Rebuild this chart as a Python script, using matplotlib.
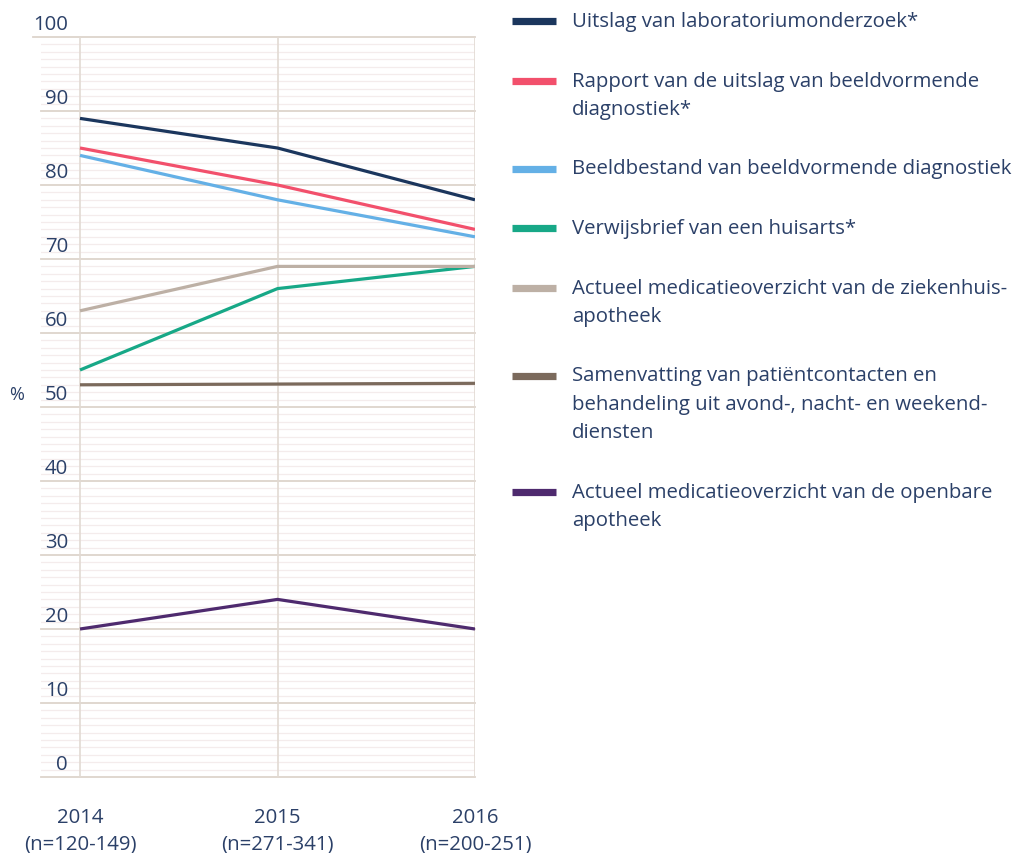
import matplotlib.pyplot as plt
from matplotlib.lines import Line2D

plt.rcParams['font.family'] = ['Open Sans', 'DejaVu Sans']

years = [2014, 2015, 2016]
year_labels = ['2014\n(n=120-149)', '2015\n(n=271-341)', '2016\n(n=200-251)']

labels = [
    'Uitslag van laboratoriumonderzoek*',
    'Rapport van de uitslag van beeldvormende\ndiagnostiek*',
    'Beeldbestand van beeldvormende diagnostiek',
    'Verwijsbrief van een huisarts*',
    'Actueel medicatieoverzicht van de ziekenhuis-\napotheek',
    'Samenvatting van patiëntcontacten en\nbehandeling uit avond-, nacht- en weekend-\ndiensten',
    'Actueel medicatieoverzicht van de openbare\napotheek',
]
values = [
    [89, 85, 78],
    [85, 80, 74],
    [84, 78, 73],
    [55, 66, 69],
    [63, 69, 69],
    [53.0, 53.1, 53.2],
    [20, 24, 20],
]
colors = ['#1b365d', '#f2506c', '#64b0e6', '#17a887', '#bdb0a5', '#7b6a5c', '#4e2a6e']

text_col = '#2b4068'
W, H = 1027, 854
fs = 14.7

fig = plt.figure(figsize=(W / 100, H / 100), dpi=100)
left, right, bottom, top = 41, 475, 778, 38
ax = fig.add_axes([left / W, 1 - bottom / H, (right - left) / W, (bottom - top) / H])

ax.set_ylim(0, 100)
ax.set_xlim(2014 - (80 - left) / ((right - 80) / 2), 2016)
ax.axis('off')

# background grid: fine lines every unit, stronger every ten
for v in range(0, 101):
    if v % 10:
        ax.axhline(v, color='#f4ecec', lw=0.9, zorder=0)
for v in range(0, 101, 10):
    xmin = (33 - left) / (right - left) if v == 100 else 0
    ax.axhline(v, xmin=xmin, color='#ddd4cc', lw=1.3, zorder=1, clip_on=False)
for yr in years:
    ax.axvline(yr, color='#e2dad3', lw=1.2, zorder=1)

for vals, c in zip(values, colors):
    ax.plot(years, vals, color=c, lw=2.3, zorder=3, solid_capstyle='butt')

# y labels sit just above their grid line
lab_x = (68 - left) / (right - left)
for v in range(0, 101, 10):
    ax.annotate(str(v), xy=(lab_x, v), xycoords=('axes fraction', 'data'),
                xytext=(0, 3), textcoords='offset pixels',
                ha='right', va='bottom', fontsize=fs, color=text_col)
ax.annotate('%', xy=((17 - left) / (right - left), 50), xycoords=('axes fraction', 'data'),
            xytext=(0, 4), textcoords='offset pixels',
            ha='center', va='bottom', fontsize=13, color=text_col)

for yr, lab in zip(years, year_labels):
    ax.annotate(lab, xy=(yr, 0), xycoords='data', xytext=(0, -30),
                textcoords='offset pixels', ha='center', va='top',
                fontsize=fs, color=text_col, linespacing=1.45)

# legend drawn by hand, handle next to first line of each label
y = 22
line_h, gap = 28.5, 59.5
for lab, c in zip(labels, colors):
    fig.add_artist(Line2D([512 / W, 556 / W], [1 - y / H, 1 - y / H],
                          color=c, lw=5.2, solid_capstyle='butt'))
    lines = lab.split('\n')
    for i, ln in enumerate(lines):
        fig.text(572 / W, 1 - (y + i * line_h) / H, ln, ha='left', va='center',
                 fontsize=fs, color=text_col)
    y += (len(lines) - 1) * line_h + gap

fig.savefig('out.png', dpi=100)
